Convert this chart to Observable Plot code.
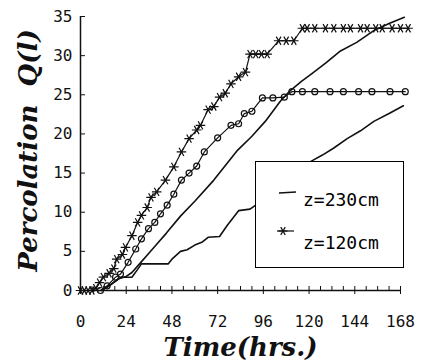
<!DOCTYPE html>
<html><head><meta charset="utf-8">
<script src="https://cdn.jsdelivr.net/npm/d3@7"></script>
<script src="https://cdn.jsdelivr.net/npm/@observablehq/plot@0.6"></script>
<style>
body{margin:0;background:#fff;}
#wrap{position:relative;width:424px;height:361px;overflow:hidden;background:#fff;}
#legend{position:absolute;left:255px;top:161px;width:149px;height:107px;box-sizing:border-box;border:1.5px solid #000;background:#fff;font-family:"DejaVu Sans Mono",monospace;font-size:18px;color:#000;}
#legend .lbl{position:absolute;left:47px;line-height:1;white-space:nowrap;}
#legend svg{position:absolute;left:0;top:0;}
</style></head><body><div id="wrap"></div>
<script>
// Series (time in hours, Q in cm)
const starHours = [0,2,4,6,8,10,12,15,17.5,19,22,23.6,27,30,32,35,37,40,44.6,49,53,57,61,63,67,70,73,76,79,83,86.6,89,92,95,98,104,108,112,116.5,119,123,128.6,133,138,141.7,147,150.5,155,158.4,163.6,168,172];
const starQ     = [0,0,0,0,0.3,1,1.7,2.2,2.8,4,4.6,5.5,7,8.7,9.6,10.6,11.9,12.6,14.1,15.8,17.7,19.4,20.5,21.1,23.1,23.5,24.7,25.2,26.4,27.3,27.9,30.2,30.2,30.2,30.2,31.9,31.9,31.9,33.5,33.5,33.5,33.5,33.5,33.5,33.5,33.5,33.5,33.5,33.5,33.5,33.5,33.5];

const circleHours = [10.5,14,18.4,21,25,29,32,35.7,39,42,45.5,49,53,57,61,65,72,79,83,86,90,95.5,101,107,111,116.5,123,131,138,146,153,162.5,170.5];
const circleQ     = [0,0.6,1.7,2.1,3.6,5.3,6.6,7.9,8.7,9.8,10.9,12.3,14.1,15,15.9,17.7,19.5,21.1,21.3,22.6,22.9,24.6,24.6,24.7,25.4,25.4,25.4,25.4,25.4,25.4,25.4,25.4,25.4];

const upperHours = [11,15,20,24,27,31,36,40,45,52.5,60,70,82,90,97,105,110,116,122,129,136.5,145,154,162,170];
const upperQ     = [0,0.6,1.5,1.8,2.3,3.4,4.8,5.9,7.3,9.5,11.4,14.1,17.8,19.7,21.6,24.2,25.5,26.7,27.8,29.1,30.6,31.7,33.2,34.1,34.9];

const lowerHours = [11,15,20,22,27,30,32,46,48,52.5,56,60,64,67,73,77,83,89,92,100,110,118,121,127,133,140,147,154,162,169.5];
const lowerQ     = [0,0.6,1.5,1.7,1.7,2.7,3.4,3.4,4.0,5.0,5.2,5.8,6.2,6.8,6.9,8.3,10.2,10.4,10.9,12.5,14.5,15.9,16.5,17.3,18.2,19.4,20.4,21.6,22.6,23.6];

const xMajorTicks = [0,24,48,72,96,120,144,168];
const xMinorTicks = d3.range(0, 169, 6);
const yTicks = [0,5,10,15,20,25,30,35];
const xTitle = "Time(hrs.)";
const yTitle = "Percolation\u00a0 Q(l)";
const legendLabels = ["z=230cm", "z=120cm"];

const toRows = (hs, qs) => hs.map((h, i) => ({h, q: qs[i]}));
const stars = toRows(starHours, starQ);
const circles = toRows(circleHours, circleQ);
const upper = toRows(upperHours, upperQ);
const lower = toRows(lowerHours, lowerQ);

const ink = "#111";
const titleFont = {fontFamily: "DejaVu Serif", fontWeight: "bold", fontStyle: "italic", fontSize: 26, fill: ink, textAnchor: "middle", lineAnchor: "middle"};

const chart = Plot.plot({
  width: 424,
  height: 361,
  marginLeft: 80,
  marginRight: 24,
  marginTop: 16,
  marginBottom: 71,
  style: {fontFamily: "DejaVu Sans Mono", fontSize: "16px", background: "#fff", color: ink, overflow: "visible"},
  x: {domain: [0, 168], label: null},
  y: {domain: [0, 35], label: null},
  marks: [
    Plot.ruleY([0], {stroke: ink, strokeWidth: 1.5}),
    Plot.ruleX([0], {stroke: ink, strokeWidth: 1.5}),
    Plot.axisX(xMinorTicks, {tickSize: -4, tickFormat: () => "", label: null, stroke: ink}),
    Plot.axisX(xMajorTicks, {tickSize: 4, tickPadding: 21, tickFormat: d => String(d), label: null, stroke: ink, fill: ink}),
    Plot.axisY(yTicks, {tickSize: -5, tickFormat: () => "", label: null, stroke: ink}),
    Plot.axisY(yTicks, {tickSize: 0, tickPadding: 8, tickFormat: d => String(d), label: null, fill: ink}),
    Plot.line(upper, {x: "h", y: "q", stroke: ink, strokeWidth: 1.6}),
    Plot.line(lower, {x: "h", y: "q", stroke: ink, strokeWidth: 1.6}),
    Plot.line(circles, {x: "h", y: "q", stroke: ink, strokeWidth: 1.2}),
    Plot.dot(circles, {x: "h", y: "q", r: 3, symbol: "circle", stroke: ink, strokeWidth: 1.2, fill: "none"}),
    Plot.line(stars, {x: "h", y: "q", stroke: ink, strokeWidth: 1.2}),
    Plot.dot(stars, {x: "h", y: "q", r: 4.5, symbol: "asterisk", rotate: 90, stroke: ink, strokeWidth: 1.2}),
    Plot.text([xTitle], {text: d => d, frameAnchor: "bottom", dy: 57, ...titleFont}),
    Plot.text([yTitle], {text: d => d, frameAnchor: "left", rotate: -90, dx: -52, dy: -3, ...titleFont})
  ]
});

const wrap = document.getElementById("wrap");
wrap.appendChild(chart);

// Legend box (overlays the plot, covering part of the lower curve as in the original)
const legend = document.createElement("div");
legend.id = "legend";
legend.innerHTML = `
<svg width="149" height="107">
  <line x1="23" y1="31" x2="40" y2="30" stroke="${ink}" stroke-width="1.5"/>
  <line x1="21" y1="69" x2="38" y2="69" stroke="${ink}" stroke-width="1.2"/>
  <g transform="translate(27,69) rotate(90)" stroke="${ink}" stroke-width="1.2">
    <line x1="0" y1="-4.5" x2="0" y2="4.5"/>
    <line x1="-3.9" y1="-2.25" x2="3.9" y2="2.25"/>
    <line x1="-3.9" y1="2.25" x2="3.9" y2="-2.25"/>
  </g>
</svg>
<div class="lbl" style="top:29px">${legendLabels[0]}</div>
<div class="lbl" style="top:72px">${legendLabels[1]}</div>`;
wrap.appendChild(legend);
</script></body></html>
